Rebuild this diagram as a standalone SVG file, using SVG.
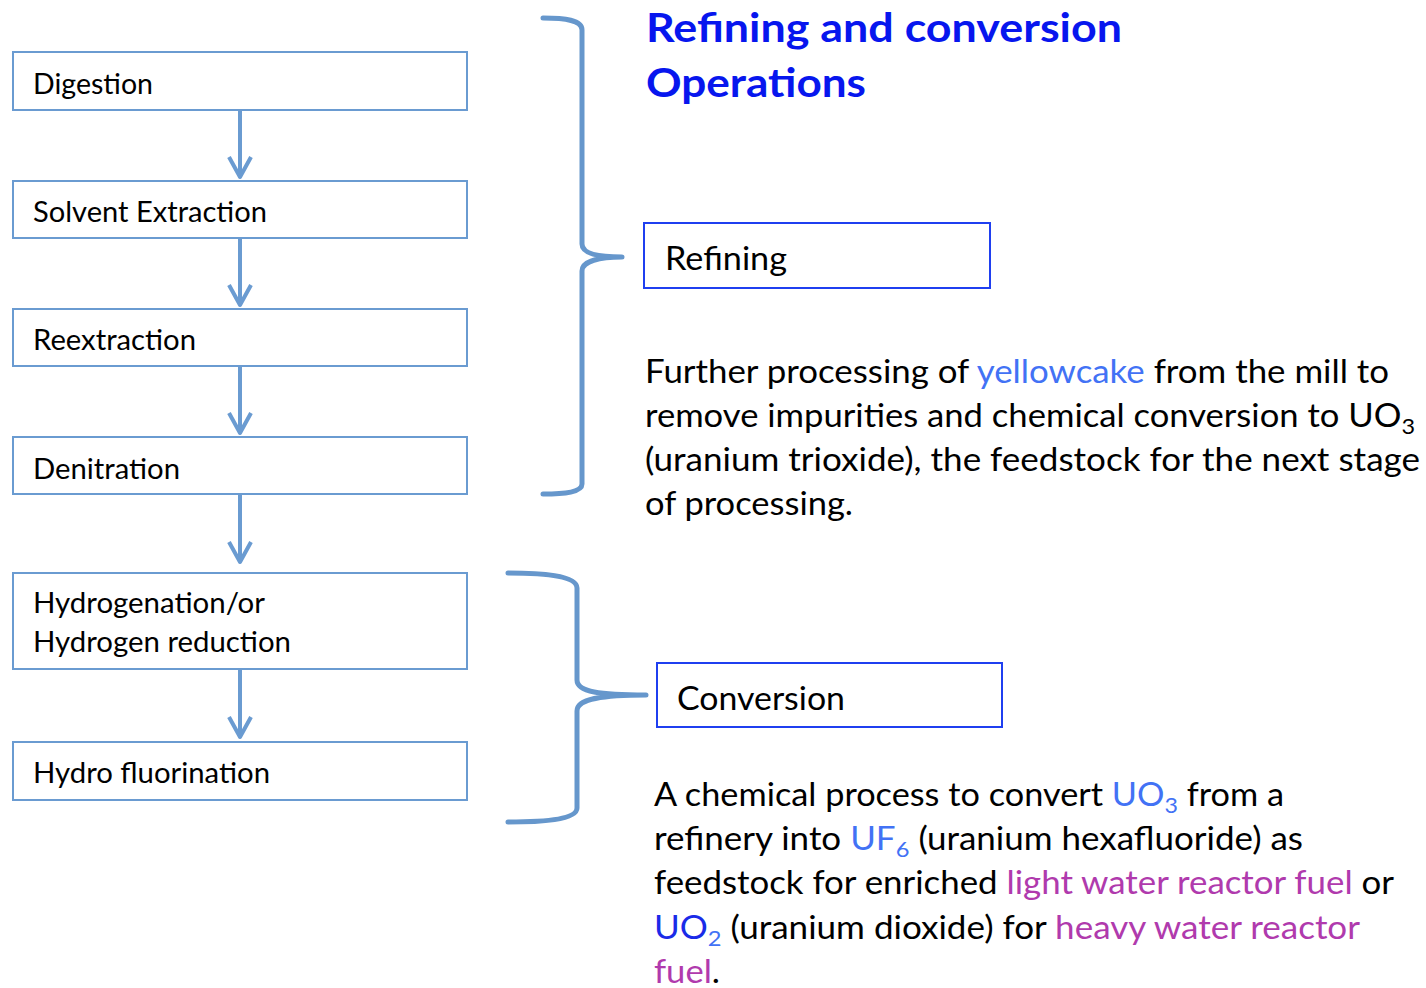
<svg xmlns="http://www.w3.org/2000/svg" width="1426" height="988" viewBox="0 0 1426 988">
<style>
.box{fill:#fff;stroke:#6a9bd1;stroke-width:2}
.bbox{fill:#fff;stroke:#1f3ff0;stroke-width:2}
.lbl{font-family:Lato,"Liberation Sans",sans-serif;font-size:28.5px;fill:#000}
.big{font-family:Lato,"Liberation Sans",sans-serif;font-size:32.5px;fill:#000}
.title{font-family:Lato,"Liberation Sans",sans-serif;font-size:40px;font-weight:bold;fill:#0716ee}
.arrow{stroke:#6a9bd1;stroke-width:4;fill:none;marker-end:url(#chev)}
.brace{stroke:#6697cc;stroke-width:5;fill:none;stroke-linecap:round;stroke-linejoin:round}
.lb{fill:#4272f5}
.db{fill:#1a2be8}
.mg{fill:#b03aad}
</style>
<defs>
<marker id="chev" markerUnits="userSpaceOnUse" markerWidth="30" markerHeight="30" refX="0" refY="0" orient="auto" overflow="visible">
<path d="M-20,-11 L0,0 L-20,11" fill="none" stroke="#6a9bd1" stroke-width="4" stroke-linejoin="round" stroke-linecap="butt"/>
</marker>
</defs>
<rect width="1426" height="988" fill="#fff"/>

<g id="connectors">
<line class="arrow" x1="240" y1="111" x2="240" y2="177"/>
<line class="arrow" x1="240" y1="239" x2="240" y2="305"/>
<line class="arrow" x1="240" y1="367" x2="240" y2="433"/>
<line class="arrow" x1="240" y1="495" x2="240" y2="562"/>
<line class="arrow" x1="240" y1="670" x2="240" y2="737"/>
<path class="brace" d="M543,18 C565,18 582,20 582,30 L582,244 C582,254 600,257 622,257 C600,257 582,261 582,271 L582,484 C582,492 565,494 543,494"/>
<path class="brace" d="M508,573 C540,573 577,575 577,588 L577,680 C577,692 600,695 646,695 C600,695 577,699 577,711 L577,808 C577,820 540,822 508,822"/>
</g>

<g id="digestion">
<rect class="box" x="13" y="52" width="454" height="58"/>
<text class="lbl" x="33" y="94" textLength="120" lengthAdjust="spacingAndGlyphs">Digestion</text>
</g>
<g id="solvent-extraction">
<rect class="box" x="13" y="181" width="454" height="57"/>
<text class="lbl" x="33" y="222" textLength="234" lengthAdjust="spacingAndGlyphs">Solvent Extraction</text>
</g>
<g id="reextraction">
<rect class="box" x="13" y="309" width="454" height="57"/>
<text class="lbl" x="33" y="350" textLength="163" lengthAdjust="spacingAndGlyphs">Reextraction</text>
</g>
<g id="denitration">
<rect class="box" x="13" y="437" width="454" height="57"/>
<text class="lbl" x="33" y="479" textLength="147" lengthAdjust="spacingAndGlyphs">Denitration</text>
</g>
<g id="hydrogenation">
<rect class="box" x="13" y="573" width="454" height="96"/>
<text class="lbl" x="33" y="613" textLength="232" lengthAdjust="spacingAndGlyphs">Hydrogenation/or</text>
<text class="lbl" x="33" y="652" textLength="258" lengthAdjust="spacingAndGlyphs">Hydrogen reduction</text>
</g>
<g id="hydro-fluorination">
<rect class="box" x="13" y="742" width="454" height="58"/>
<text class="lbl" x="33" y="783" textLength="237" lengthAdjust="spacingAndGlyphs">Hydro fluorination</text>
</g>

<g id="title">
<text class="title" x="646" y="42" textLength="476" lengthAdjust="spacingAndGlyphs">Refining and conversion</text>
<text class="title" x="646" y="97" textLength="220" lengthAdjust="spacingAndGlyphs">Operations</text>
</g>

<g id="refining">
<rect class="bbox" x="644" y="223" width="346" height="65"/>
<text class="big" x="665" y="270" textLength="122" lengthAdjust="spacingAndGlyphs">Refining</text>
</g>

<g id="refining-desc">
<text class="big" x="645" y="383" textLength="744" lengthAdjust="spacingAndGlyphs">Further processing of <tspan class="lb">yellowcake</tspan> from the mill to</text>
<text class="big" x="645" y="427" textLength="770" lengthAdjust="spacingAndGlyphs">remove impurities and chemical conversion to UO<tspan font-size="22" dy="7">3</tspan></text>
<text class="big" x="645" y="471" textLength="775" lengthAdjust="spacingAndGlyphs">(uranium trioxide), the feedstock for the next stage</text>
<text class="big" x="645" y="515" textLength="208" lengthAdjust="spacingAndGlyphs">of processing.</text>
</g>

<g id="conversion">
<rect class="bbox" x="657" y="663" width="345" height="64"/>
<text class="big" x="677" y="710" textLength="168" lengthAdjust="spacingAndGlyphs">Conversion</text>
</g>

<g id="conversion-desc">
<text class="big" x="654" y="806" textLength="630" lengthAdjust="spacingAndGlyphs">A chemical process to convert <tspan class="lb">UO</tspan><tspan class="lb" font-size="22" dy="7">3</tspan><tspan dy="-7"> from a</tspan></text>
<text class="big" x="654" y="850" textLength="649" lengthAdjust="spacingAndGlyphs">refinery into <tspan class="lb">UF</tspan><tspan class="lb" font-size="22" dy="7">6</tspan><tspan dy="-7"> (uranium hexafluoride) as</tspan></text>
<text class="big" x="654" y="894" textLength="740" lengthAdjust="spacingAndGlyphs">feedstock for enriched <tspan class="mg">light water reactor fuel</tspan> or</text>
<text class="big" x="654" y="939" textLength="706" lengthAdjust="spacingAndGlyphs"><tspan class="db">UO</tspan><tspan class="lb" font-size="22" dy="7">2</tspan><tspan dy="-7"> (uranium dioxide) for </tspan><tspan class="mg">heavy water reactor</tspan></text>
<text class="big" x="654" y="983" textLength="66" lengthAdjust="spacingAndGlyphs"><tspan class="mg">fuel</tspan>.</text>
</g>
</svg>
